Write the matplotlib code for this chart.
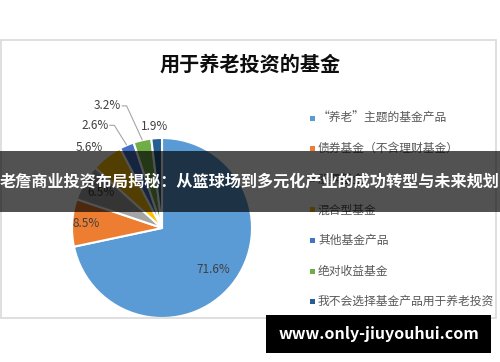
import numpy as np
import matplotlib
matplotlib.use("Agg")
import matplotlib.pyplot as plt
from matplotlib.patches import Rectangle

plt.rcParams['font.family'] = ['Noto Sans CJK SC', 'DejaVu Sans']

# data
title = '用于养老投资的基金'
categories = ['“养老”主题的基金产品', '债券基金（不含理财基金）', '股票基金', '混合型基金',
              '其他基金产品', '绝对收益基金', '我不会选择基金产品用于养老投资']
shares = [71.6, 8.5, 6.5, 5.6, 2.6, 3.2, 1.9]
colors = ['#5B9BD5', '#ED7D31', '#A5A5A5', '#FFC000', '#4472C4', '#70AD47', '#255E91']
banner = '老詹商业投资布局揭秘：从篮球场到多元化产业的成功转型与未来规划'
watermark = 'www.only-jiuyouhui.com'

W, H = 500, 362


def Y(y):
    # image rows (top down) -> axes coords (bottom up)
    return H - y


fig = plt.figure(figsize=(W / 100, H / 100), dpi=100)
ax = fig.add_axes([0, 0, 1, 1])

cx, cy, r = 162, Y(228), 90
wedges, _ = ax.pie(shares, colors=colors, startangle=90, counterclock=False,
                   center=(cx, cy), radius=r,
                   wedgeprops=dict(edgecolor='white', linewidth=1.5))

# label placement: None -> inside at mid angle, else (angle clockwise from top, radius factor)
label_pos = [0.74, 0.84, 0.78, (318, 1.21), (327, 1.36), (336, 1.485), (356, 1.136)]
leader = [False, False, False, False, True, True, False]

for w, v, p, ld in zip(wedges, shares, label_pos, leader):
    mid = np.deg2rad((w.theta1 + w.theta2) / 2)
    if isinstance(p, tuple):
        a = np.deg2rad(90 - p[0])
        d = p[1]
    else:
        a, d = mid, p
    tx, ty = cx + d * r * np.cos(a), cy + d * r * np.sin(a)
    ax.text(tx, ty, '%.1f%%' % v, ha='center', va='center', fontsize=8.5,
            color='#404040', zorder=4)
    if ld:
        sx = tx + 14
        ex, ey = cx + r * np.cos(mid), cy + r * np.sin(mid)
        ax.plot([sx, sx + 5, ex], [ty, ty, ey], color='#A6A6A6', lw=0.8,
                zorder=3, solid_capstyle='butt')

ax.text(250, Y(64), title, ha='center', va='center', fontsize=14.5,
        fontweight='bold', color='#0D0D0D')

for i, (lab, c) in enumerate(zip(categories, colors)):
    yy = Y(118 + 30.6 * i)
    ax.add_patch(Rectangle((310, yy - 2.5), 5, 5, facecolor=c, edgecolor='none'))
    ax.text(318, yy, lab, ha='left', va='center', fontsize=8.5, color='#595959')

# chart frame
ax.add_patch(Rectangle((1, Y(318)), 495, 278, facecolor='none',
                       edgecolor='#D9D9D9', lw=1.2, zorder=1))

# overlay banner
ax.add_patch(Rectangle((0, Y(212)), W, 61, facecolor='black', alpha=0.68,
                       edgecolor='none', zorder=6))
ax.text(250, Y(181), banner, ha='center', va='center', fontsize=11.6,
        fontweight='bold', color='white', zorder=7)

# watermark
ax.add_patch(Rectangle((266, Y(353)), 225, 38, facecolor='black',
                       edgecolor='none', zorder=6))
ax.text(378.5, Y(334), watermark, ha='center', va='center', fontsize=11.5,
        fontweight='bold', color='white', zorder=7)

ax.set_xlim(0, W)
ax.set_ylim(0, H)
ax.set_aspect('auto')
ax.axis('off')

fig.savefig('out.png', dpi=100)
